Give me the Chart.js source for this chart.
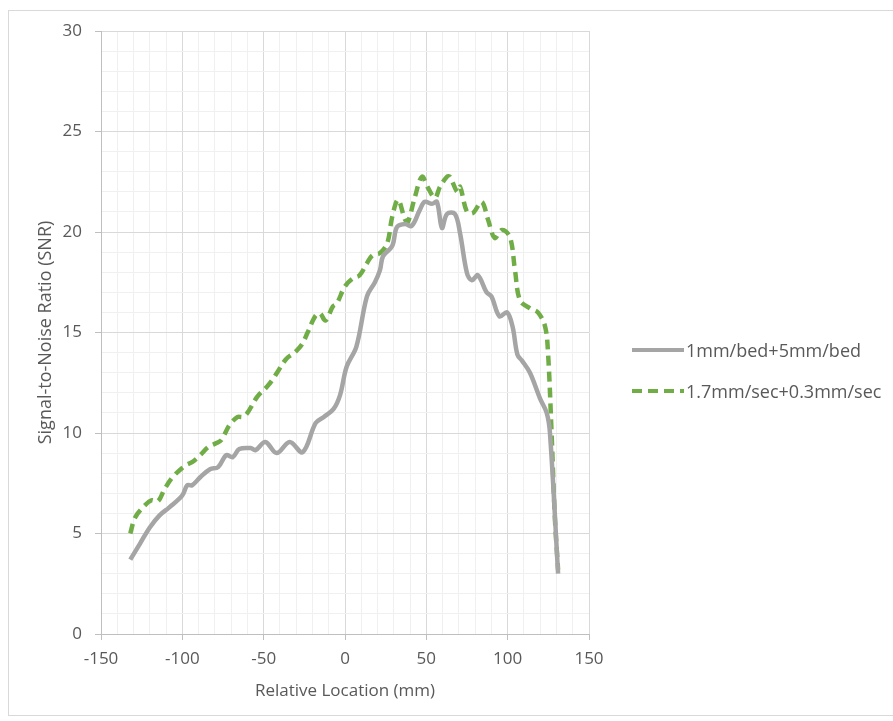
<!DOCTYPE html>
<html>
<head>
<meta charset="utf-8">
<script src="https://cdn.jsdelivr.net/npm/chart.js@4/dist/chart.umd.min.js"></script>
<style>
  html, body { margin:0; padding:0; background:#fff; }
  #wrap { position:relative; width:893px; height:721px; overflow:hidden; font-family:"Open Sans", sans-serif; }
  #frame { position:absolute; left:8px; top:10px; width:900px; height:706px; border:1px solid #d9d9d9; box-sizing:border-box; }
  canvas { position:absolute; left:0; top:0; }
  .leg { position:absolute; left:632px; height:22px; display:flex; align-items:center; color:#595959; font-size:18px; white-space:nowrap; }
  .leg svg { margin-right:2px; }
</style>
</head>
<body>
<div id="wrap">
  <div id="frame"></div>
  <canvas id="snrChart" width="893" height="721"></canvas>
  <div class="leg" style="top:339px"><svg width="52" height="6"><line x1="0" y1="3" x2="52" y2="3" stroke="#a5a5a5" stroke-width="4"/></svg>1mm/bed+5mm/bed</div>
  <div class="leg" style="top:380px"><svg width="52" height="6"><line x1="0" y1="3" x2="52" y2="3" stroke="#70ad47" stroke-width="4" stroke-dasharray="10,6"/></svg>1.7mm/sec+0.3mm/sec</div>
</div>
<script>
// SNR profile along the bed, two acquisition modes
const bedX = [-132,-126,-120,-114,-108,-100,-97,-94,-89,-83,-78,-73,-69,-65,-58,-55,-49,-42,-34,-26,-18,-13,-7,-3,1,7,13.5,18.4,21.5,23.4,29,32,37,41,46,49,53.5,56.5,59.6,62.7,67.6,70.7,75,78,81.7,87,90,95,99.6,103,106,108.8,113.7,120,124,126,131];
const bedY = [3.7,4.5,5.3,5.9,6.3,6.9,7.4,7.4,7.8,8.2,8.3,8.9,8.8,9.2,9.25,9.15,9.55,9.0,9.55,9.05,10.5,10.8,11.2,11.9,13.3,14.3,16.8,17.5,18.1,18.8,19.3,20.25,20.4,20.3,21.1,21.5,21.4,21.5,20.2,20.9,20.9,19.95,17.95,17.6,17.85,17.0,16.8,15.8,16.0,15.3,13.9,13.6,13.0,11.7,11.0,10.0,3.0];

const secX = [-132,-129,-123,-119,-115,-111,-106,-98,-94,-89,-84,-79,-76,-71,-66,-63,-60,-54,-48,-45,-41,-36,-31,-26.5,-23,-18.4,-15.4,-12,-7.4,-5,0,5,9,13.5,17,21.5,26,29,32.6,37,38.7,43,47.3,51,55.3,58.4,62.7,64.5,69,70.7,75,78.7,84,88,92,96.5,101.4,104.5,107.6,113.7,118.6,123,124.8,127,129,131];
const secY = [5.0,5.8,6.4,6.65,6.6,7.2,7.8,8.4,8.55,8.9,9.3,9.5,9.65,10.4,10.8,10.8,11.0,11.8,12.3,12.6,13.1,13.7,14.0,14.4,15.0,15.8,15.95,15.6,16.3,16.45,17.3,17.7,17.85,18.45,18.85,18.95,19.45,20.75,21.6,20.6,20.5,21.75,22.75,22.2,21.7,22.25,22.75,22.75,22.0,22.25,21.0,20.95,21.5,20.6,19.7,20.1,19.75,18.1,16.6,16.2,16.0,15.3,14.0,10.0,5.8,3.2];

const seriesNames = ['1mm/bed+5mm/bed', '1.7mm/sec+0.3mm/sec'];
const xRange = [-150, 150];
const yRange = [0, 30];

const pts = (xs, ys) => xs.map((x,i) => ({ x, y: ys[i] }));
const TXT = '#595959';
const FAMILY = '"Open Sans", sans-serif';

const gridColor = major => c => (Math.round(c.tick.value) % major === 0) ? '#d9d9d9' : '#f0f0f0';
const tickColor = major => c => (Math.round(c.tick.value) % major === 0) ? '#bfbfbf' : 'rgba(0,0,0,0)';

new Chart(document.getElementById('snrChart'), {
  type:'line',
  data:{ datasets:[
    { label:seriesNames[0], data:pts(bedX, bedY), borderColor:'#a5a5a5', borderWidth:4.5, pointRadius:0, tension:0.35, fill:false },
    { label:seriesNames[1], data:pts(secX, secY), borderColor:'#70ad47', borderWidth:4.5, borderDash:[10,6], pointRadius:0, tension:0.35, fill:false },
  ]},
  options:{
    responsive:false, animation:false,
    layout:{ padding:{ left:35, top:31, right:304, bottom:20 } },
    plugins:{ legend:{ display:false }, tooltip:{ enabled:false } },
    scales:{
      x:{
        type:'linear', min:xRange[0], max:xRange[1],
        afterFit:s => { s.height = 67; },
        ticks:{ stepSize:10, color:TXT, font:{ family:FAMILY, size:17 }, padding:9, maxRotation:0, autoSkip:false,
          callback:v => (v % 50 === 0) ? v : '' },
        grid:{ color:gridColor(50), tickColor:tickColor(50), tickLength:6, lineWidth:1 },
        border:{ color:'#bfbfbf' },
        title:{ display:true, text:'Relative Location (mm)', color:TXT, font:{ family:FAMILY, size:17 }, padding:{ top:4, bottom:0 } },
      },
      y:{
        min:yRange[0], max:yRange[1],
        afterFit:s => { s.width = 66; },
        ticks:{ stepSize:1, color:TXT, font:{ family:FAMILY, size:17 }, padding:13, autoSkip:false,
          callback:v => (v % 5 === 0) ? v : '' },
        grid:{ color:gridColor(5), tickColor:tickColor(5), tickLength:6, lineWidth:1 },
        border:{ color:'#bfbfbf' },
        title:{ display:true, text:'Signal-to-Noise Ratio (SNR)', color:TXT, font:{ family:FAMILY, size:18 }, padding:{ top:0, bottom:0 } },
      },
    },
  },
});
</script>
</body>
</html>
